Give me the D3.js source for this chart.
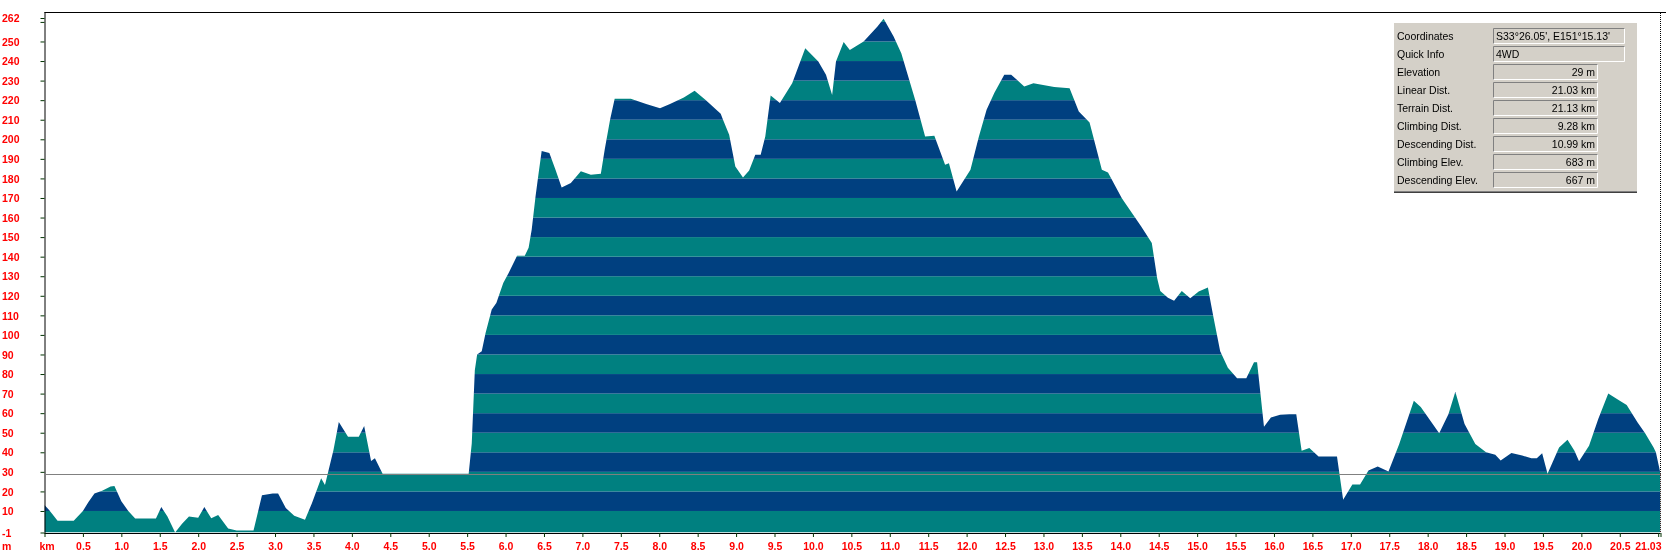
<!DOCTYPE html>
<html>
<head>
<meta charset="utf-8">
<script src="https://cdn.jsdelivr.net/npm/d3@7"></script>
<style>
    body { margin: 0; background: #fff; }
    svg { display: block; }
    .lbl { font-family: "Liberation Sans", Arial, sans-serif; font-size: 10.5px; font-weight: bold; fill: #ff0000; }
    .info { font-family: "Liberation Sans", Arial, sans-serif; font-size: 10.5px; fill: #000; }
</style>
</head>
<body>
<div id="chart"></div>
<script>
// distance along the track (km) and elevation (m)
var distKm = [0, 0.06, 0.17, 0.38, 0.5, 0.57, 0.65, 0.75, 0.86, 0.91, 1.0, 1.09, 1.18, 1.45, 1.52, 1.6, 1.7, 1.79, 1.88, 2.0,
    2.08, 2.17, 2.26, 2.39, 2.5, 2.72, 2.83, 2.97, 3.04, 3.14, 3.25, 3.39, 3.48, 3.6, 3.65, 3.76, 3.83, 3.95, 4.09, 4.16,
    4.25, 4.3, 4.4, 5.52, 5.56, 5.6, 5.63, 5.69, 5.74, 5.82, 5.88, 5.97, 6.04, 6.15, 6.25, 6.3, 6.34, 6.39, 6.43, 6.47,
    6.57, 6.65, 6.73, 6.85, 6.98, 7.11, 7.24, 7.29, 7.36, 7.42, 7.63, 7.83, 8.01, 8.14, 8.32, 8.46, 8.6, 8.8, 8.83, 8.91,
    8.99, 9.09, 9.17, 9.25, 9.32, 9.38, 9.45, 9.57, 9.73, 9.9, 10.07, 10.17, 10.25, 10.3, 10.4, 10.48, 10.66, 10.84, 10.92, 11.05,
    11.15, 11.33, 11.46, 11.58, 11.72, 11.77, 11.87, 12.05, 12.16, 12.26, 12.36, 12.49, 12.58, 12.75, 12.87, 13.14, 13.34, 13.46, 13.6, 13.76,
    13.84, 14.02, 14.27, 14.41, 14.48, 14.52, 14.62, 14.7, 14.8, 14.91, 15.02, 15.14, 15.21, 15.3, 15.4, 15.52, 15.64, 15.74, 15.78, 15.82,
    15.87, 15.96, 16.08, 16.2, 16.29, 16.36, 16.46, 16.58, 16.82, 16.9, 17.02, 17.12, 17.23, 17.35, 17.49, 17.63, 17.82, 17.91, 18.15, 18.27,
    18.36, 18.48, 18.62, 18.76, 18.88, 18.95, 19.09, 19.23, 19.35, 19.42, 19.49, 19.56, 19.71, 19.82, 19.91, 19.97, 20.1, 20.22, 20.35, 20.5,
    20.59, 20.73, 20.83, 20.94, 20.97, 21.03];
var elevM = [13, 10.5, 5, 5, 10, 14.5, 19, 20.3, 22.5, 22.8, 15, 10, 6.2, 6.2, 12, 7.2, -1, 3.5, 7.2, 6.5,
    12, 6.3, 8, 1, 0, 0, 18, 19, 19, 11.5, 7.5, 5.5, 14, 26.7, 23.3, 41, 55.5, 48, 48, 53.5,
    35.5, 37, 29, 29, 44.5, 82, 90, 91.6, 101, 113, 116.3, 126.6, 131.7, 140.5, 140.5, 144.5, 153.7, 170.8, 182.7, 194,
    193, 184.4, 175.4, 177.6, 183.6, 181.9, 182.4, 194.6, 210, 220.7, 220.7, 218.1, 215.9, 218.1, 221.4, 224.8, 220.2, 213, 210, 202.3,
    186.1, 180.5, 184.1, 192.1, 192.1, 201.4, 222.4, 218.5, 228.7, 246.6, 239.8, 233, 222.7, 239.8, 249.7, 245.7, 250, 257.7, 261.6, 252.6,
    244, 220.2, 201.4, 201.8, 187, 187.8, 173.3, 184.4, 201.4, 215.1, 223.6, 233, 233, 227, 228.7, 226.7, 226.1, 214.2, 208.6, 184.4,
    183, 169.9, 155.5, 147, 129, 122.5, 119, 117.5, 122.5, 118.8, 122.2, 124.2, 109.5, 91.7, 83.2, 77.8, 77.8, 86, 86, 71.4,
    53, 57.8, 59.2, 59.5, 59.5, 40.8, 42.2, 37.8, 37.8, 15.8, 23.6, 23.6, 30.7, 32.7, 30.2, 44.2, 66.3, 63.2, 49.7, 59.5,
    71, 54.4, 44.2, 40, 38.8, 35.8, 39.7, 38.3, 37, 37, 39.5, 29, 42.5, 46.4, 40.8, 35.4, 43.4, 57, 70, 66.3,
    64.2, 55.3, 49.7, 42.5, 40, 29];

var yTicks = [-1, 10, 20, 30, 40, 50, 60, 70, 80, 90, 100, 110, 120, 130, 140, 150, 160, 170, 180, 190, 200,
    210, 220, 230, 240, 250, 260, 262];
var xTicks = [0, 0.5, 1, 1.5, 2, 2.5, 3, 3.5, 4, 4.5, 5, 5.5, 6, 6.5, 7, 7.5, 8, 8.5, 9, 9.5, 10, 10.5,
    11, 11.5, 12, 12.5, 13, 13.5, 14, 14.5, 15, 15.5, 16, 16.5, 17, 17.5, 18, 18.5, 19, 19.5, 20, 20.5, 21, 21.03];

var cursorKm = 21.03,
    cursorElev = 29;

var infoLabels = ["Coordinates", "Quick Info", "Elevation", "Linear Dist.", "Terrain Dist.", "Climbing Dist.",
    "Descending Dist.", "Climbing Elev.", "Descending Elev."];
var infoValues = ["S33°26.05', E151°15.13'", "4WD", "29 m", "21.03 km", "21.13 km", "9.28 km", "10.99 km", "683 m", "667 m"];

(function () {
    var width = 1666,
        height = 553;

    var teal = "#008080",
        navy = "#004080",
        tickCol = "#003300";

    var svg = d3.select("#chart")
        .append("svg")
        .attr("width", width)
        .attr("height", height);

    svg.append("rect")
        .attr("width", width)
        .attr("height", height)
        .attr("fill", "#fff");

    var x = d3.scaleLinear().domain([0, 21.03]).range([44.5, 1660.5]);
    var y = d3.scaleLinear().domain([-1, 262]).range([532.5, 18]);

    var points = distKm.map(function (d, i) {
        return {km: d, m: elevM[i]};
    });

    var area = d3.area()
        .x(function (d) { return x(d.km); })
        .y0(y(-1))
        .y1(function (d) { return y(d.m); });

    svg.append("clipPath")
        .attr("id", "profile-clip")
        .append("path")
        .attr("d", area(points));

    // 10 m bands, alternating colours, cut to the profile
    var bands = d3.range(0, 27);
    svg.append("g")
        .attr("clip-path", "url(#profile-clip)")
        .selectAll("rect")
        .data(bands)
        .enter().append("rect")
        .attr("x", x(0))
        .attr("width", x(21.03) - x(0))
        .attr("y", function (d) { return y((d + 1) * 10); })
        .attr("height", function (d) {
            var lo = d === 0 ? -1 : d * 10;
            return y(lo) - y((d + 1) * 10);
        })
        .attr("fill", function (d) { return d % 2 === 0 ? teal : navy; });

    // frame
    svg.append("line")
        .attr("x1", x(0)).attr("x2", width)
        .attr("y1", 12.5).attr("y2", 12.5)
        .attr("stroke", "#000");

    var yAxis = d3.axisLeft(y)
        .tickValues(yTicks)
        .tickSize(4)
        .tickFormat(function (d) { return d === 260 ? "" : d; });

    var gy = svg.append("g")
        .attr("transform", "translate(" + x(0) + ",0)")
        .call(yAxis);
    gy.select(".domain").attr("d", "M0.5,12V" + (y(-1) + 1)).attr("stroke", "#000");
    gy.selectAll(".tick line").attr("stroke", tickCol);
    gy.selectAll(".tick text")
        .attr("class", "lbl")
        .attr("text-anchor", "start")
        .attr("x", 2 - x(0))
        .attr("dy", "0.35em");

    var xAxis = d3.axisBottom(x)
        .tickValues(xTicks)
        .tickSize(4)
        .tickFormat(function (d) {
            if (d === 0) return "km";
            if (d === 21) return "";
            if (d === 21.03) return "21.03";
            return d3.format(".1f")(d);
        });

    var gx = svg.append("g")
        .attr("transform", "translate(0," + (y(-1) + 0.5) + ")")
        .call(xAxis);
    gx.select(".domain").attr("d", "M" + x(0) + ",0.5H" + x(21.03)).attr("stroke", "#000");
    gx.selectAll(".tick line").attr("stroke", tickCol);
    gx.selectAll(".tick text")
        .attr("class", "lbl")
        .attr("y", 14)
        .attr("dy", "0em")
        .attr("dominant-baseline", "middle");
    gx.selectAll(".tick text").filter(function (d) { return d === 0; })
        .attr("dx", 2);
    gx.selectAll(".tick text").filter(function (d) { return d === 21.03; })
        .attr("text-anchor", "end")
        .attr("dx", 0.5);

    svg.append("text")
        .attr("class", "lbl")
        .attr("x", 2)
        .attr("y", 547)
        .attr("dominant-baseline", "middle")
        .text("m");

    // cursor cross-hair, drawn as an inverting dotted line
    var cursor = svg.append("g")
        .attr("stroke", "#fff")
        .attr("stroke-dasharray", "1,1")
        .style("mix-blend-mode", "difference");
    cursor.append("line")
        .attr("x1", x(0) + 1).attr("x2", x(cursorKm))
        .attr("y1", Math.round(y(cursorElev)) + 0.5).attr("y2", Math.round(y(cursorElev)) + 0.5);
    cursor.append("line")
        .attr("x1", Math.round(x(cursorKm)) - 0.5).attr("x2", Math.round(x(cursorKm)) - 0.5)
        .attr("y1", 13).attr("y2", y(-1));

    // info panel
    var panel = svg.append("g").attr("transform", "translate(1394,23)");
    panel.append("rect")
        .attr("width", 243).attr("height", 170)
        .attr("fill", "#d4d0c8");
    panel.append("line")
        .attr("x1", 0).attr("x2", 243).attr("y1", 169.5).attr("y2", 169.5)
        .attr("stroke", "#404040");
    panel.append("line")
        .attr("x1", 0).attr("x2", 243).attr("y1", 168.5).attr("y2", 168.5)
        .attr("stroke", "#808080");

    var rows = panel.selectAll(".row")
        .data(infoLabels)
        .enter().append("g")
        .attr("class", "row")
        .attr("transform", function (d, i) { return "translate(0," + (5 + i * 18) + ")"; });

    rows.append("text")
        .attr("class", "info")
        .attr("x", 3)
        .attr("y", 11.5)
        .text(function (d) { return d; });

    rows.each(function (d, i) {
        var g = d3.select(this);
        var w = i < 2 ? 132 : 105;
        g.append("rect")
            .attr("x", 99).attr("y", 0)
            .attr("width", w).attr("height", 16)
            .attr("fill", "#d4d0c8");
        g.append("path")
            .attr("d", "M99.5,16V0.5H" + (99 + w))
            .attr("fill", "none")
            .attr("stroke", "#808080");
        g.append("path")
            .attr("d", "M99.5,15.5H" + (98.5 + w) + "V0.5")
            .attr("fill", "none")
            .attr("stroke", "#fff");
        g.append("text")
            .attr("class", "info")
            .attr("x", i < 2 ? 102 : 99 + w - 3)
            .attr("y", 12)
            .attr("text-anchor", i < 2 ? "start" : "end")
            .text(infoValues[i]);
    });
})();
</script>
</body>
</html>
